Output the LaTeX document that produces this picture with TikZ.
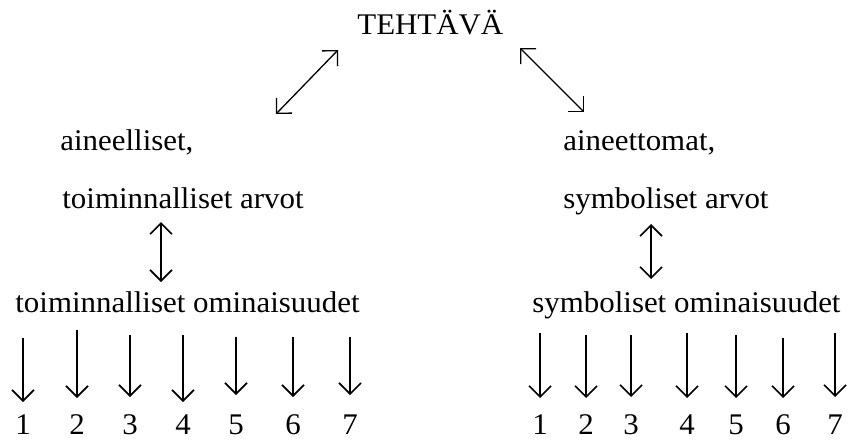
\documentclass[tikz,border=0pt]{standalone}
\usepackage{fontspec}
\setmainfont{Liberation Serif}[FakeStretch=1.03]
\usetikzlibrary{arrows.meta}
\tikzset{
  teksti/.style={anchor=base west, inner sep=0pt, font=\fontsize{15}{18}\selectfont},
  numero/.style={anchor=base, inner sep=0pt, font=\fontsize{15}{18}\selectfont},
  nuoli/.style={line width=0.8pt, -{Straight Barb[length=5.5pt,width=11pt]}},
  kaksi/.style={line width=0.8pt, {Straight Barb[length=5.5pt,width=11pt]}-{Straight Barb[length=5.5pt,width=11pt]}},
}
\begin{document}
\begin{tikzpicture}[x=0.5pt,y=-0.5pt]
			\useasboundingbox (0,0) rectangle (850,439);
			
			% Top
			\node[teksti] (tehtava) at (357,34) {TEHTÄVÄ};
			
			% Left branch
			\node[teksti] (aineell) at (60,150) {aineelliset,};
			\node[teksti] (toimarvot) at (62,208) {toiminnalliset arvot};
			\node[teksti] (toimomin) at (15,312) {toiminnalliset ominaisuudet};
			
			% Right branch
			\node[teksti] (aineett) at (563,150) {aineettomat,};
			\node[teksti] (symbarvot) at (563,208) {symboliset arvot};
			\node[teksti] (symbomin) at (532,312) {symboliset ominaisuudet};
			
			% Double arrows
			\coordinate (vy) at (338,50);  \coordinate (va) at (276,114);
			\coordinate (oy) at (520,48);  \coordinate (oa) at (584,112);
			\draw [kaksi, line width=0.65pt] (vy) -- (va);
			\draw [kaksi, line width=0.65pt] (oy) -- (oa);
			\coordinate (vky) at (161,222); \coordinate (vka) at (161,282);
			\coordinate (oky) at (651,224); \coordinate (oka) at (651,279);
			\draw [kaksi] (vky) -- (vka);
			\draw [kaksi] (oky) -- (oka);
			
			% Numbered arrows, left
			\foreach \x/\a/\b [count=\i] in {23/338/402, 77/330/398, 130/335/397, 183/335/402, 236/337/395, 293/337/397, 350/337/395} {
				\node[numero] (vn\i) at (\x,434) {\i};
				\coordinate (vt\i) at (\x,\a);
				\coordinate (vk\i) at (\x,\b);
				\draw [nuoli] (vt\i) -- (vk\i);
			}
			
			% Numbered arrows, right
			\foreach \x/\a/\b [count=\i] in {540/333/398, 586/335/398, 631/335/397, 687/333/398, 736/335/398, 783/338/398, 835/333/397} {
				\node[numero] (on\i) at (\x,434) {\i};
				\coordinate (ot\i) at (\x,\a);
				\coordinate (ok\i) at (\x,\b);
				\draw [nuoli] (ot\i) -- (ok\i);
			}
		\end{tikzpicture}
\end{document}
